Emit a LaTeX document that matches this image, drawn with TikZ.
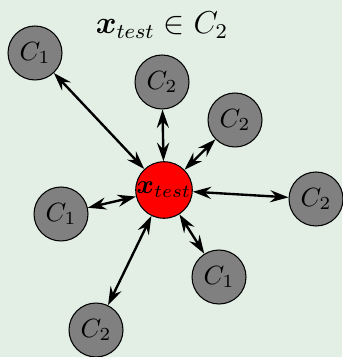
\documentclass[tikz,border=0pt]{standalone}
\usepackage{amsmath}
\usepackage{amssymb}
\usepackage{xcolor}
\usepackage{tikz}
\usetikzlibrary{arrows.meta}
\definecolor{knnback}{RGB}{227,238,229}
\definecolor{knnred}{RGB}{255,0,0}
\definecolor{knngray}{RGB}{128,128,128}

\begin{document}
\begin{tikzpicture}[
  x=0.01333cm, y=-0.01333cm,
  arrow/.style={{Stealth[length=7pt,width=4.6pt,inset=2.4pt]}-{Stealth[length=7pt,width=4.6pt,inset=2.4pt]}, line width=0.9pt},
  train/.style={circle, draw, fill=knngray, minimum size=0.72cm, inner sep=0pt},
  query/.style={circle, draw, fill=knnred, minimum size=0.73cm, inner sep=0pt}
]

% --- Background ---
\fill[knnback] (0,0) rectangle (342,357);
\useasboundingbox (0,0) rectangle (342,357);

% --- Title ---
\node[font=\large] (title) at (162,25) {$\boldsymbol{x}_{test}\in C_2$};

% --- Test point ---
\node[query] (q) at (164,190) {$\boldsymbol{x}_{test}$};

% --- Training points ---
\node[train] (n1) at (35,53) {$C_1$};
\node[train] (n2) at (162,82) {$C_2$};
\node[train] (n3) at (235,120) {$C_2$};
\node[train] (n4) at (316,199) {$C_2$};
\node[train] (n5) at (61,214) {$C_1$};
\node[train] (n6) at (219,277) {$C_1$};
\node[train] (n7) at (96,330) {$C_2$};

% --- Distances ---
\foreach \n in {n1,n2,n3,n4,n5,n6,n7}
  \draw[arrow] (q) -- (\n);

\end{tikzpicture}
\end{document}
